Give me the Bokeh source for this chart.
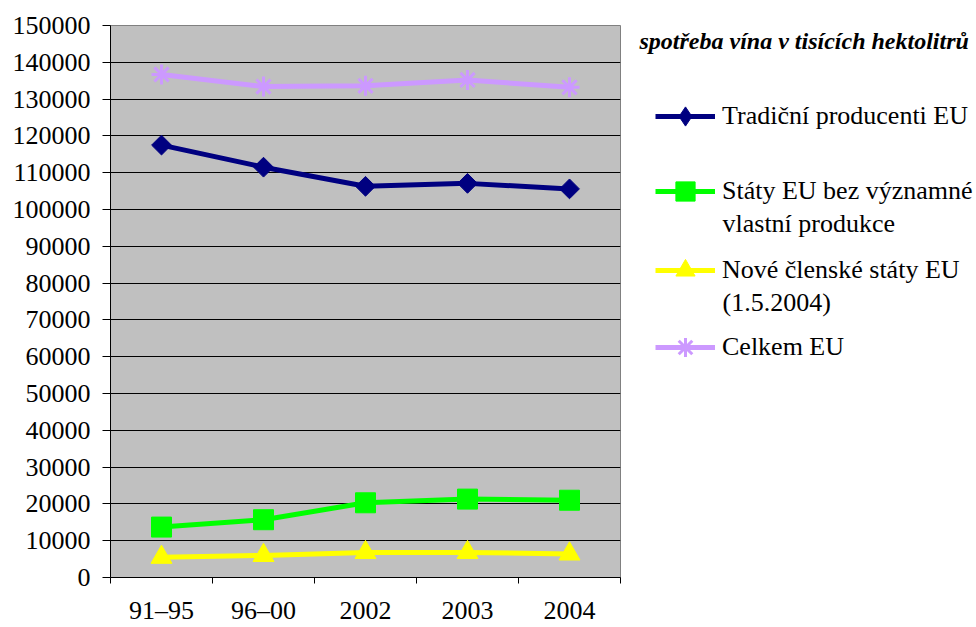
import math
from bokeh.plotting import figure
from bokeh.layouts import row
from bokeh.models import Range1d, FixedTicker, Legend, LegendItem, Label, NumeralTickFormatter
from bokeh.embed import file_html
from bokeh.resources import INLINE

# ---- data ----
categories = ["91–95", "96–00", "2002", "2003", "2004"]
tradicni = [117500, 111500, 106300, 107100, 105600]
staty = [13700, 15700, 20300, 21300, 21000]
nove = [5500, 6000, 6800, 6800, 6400]
celkem = [136700, 133400, 133600, 135200, 133200]
y_ticks = list(range(0, 150001, 10000))
legend_title = "spotřeba vína v tisících hektolitrů"
series_names = ["Tradiční producenti EU",
                "Státy EU bez významné\nvlastní produkce",
                "Nové členské státy EU\n(1.5.2004)",
                "Celkem EU"]
series_values = [tradicni, staty, nove, celkem]

# ---- styles ----
FONT = "Liberation Serif"
styles = [
    dict(color="#000080", marker="square", angle=math.pi / 4, size=14, mlw=1, legend_marker="diamond"),
    dict(color="#00FF00", marker="square", angle=0.0, size=20, mlw=1, legend_marker="square"),
    dict(color="#FFFF00", marker="triangle", angle=0.0, size=21, mlw=1, legend_marker="triangle"),
    dict(color="#CC99FF", marker="asterisk", angle=0.0, size=20, mlw=3, legend_marker="asterisk"),
]

TOP, BOTTOM, H = 25, 50, 627
xs = [i + 0.5 for i in range(len(categories))]

p = figure(width=622, height=H,
           x_range=Range1d(0, len(categories)), y_range=Range1d(0, 150000),
           output_backend="svg", toolbar_location=None,
           min_border_left=110, min_border_right=2,
           min_border_top=TOP, min_border_bottom=BOTTOM)
p.background_fill_color = "#C0C0C0"
p.border_fill_color = "white"
p.outline_line_color = "#808080"
p.outline_line_width = 1

# x axis
xa = p.xaxis[0]
xa.ticker = FixedTicker(ticks=xs, minor_ticks=list(range(len(categories) + 1)))
xa.major_label_overrides = {x: c for x, c in zip(xs, categories)}
xa.major_tick_out = 0
xa.major_tick_in = 0
xa.minor_tick_out = 6
xa.minor_tick_in = 0
xa.minor_tick_line_color = "black"
xa.axis_line_color = "black"
xa.major_label_standoff = 12
xa.major_label_text_font = FONT
xa.major_label_text_font_size = "26px"
xa.major_label_text_color = "black"

# y axis
ya = p.yaxis[0]
ya.ticker = FixedTicker(ticks=y_ticks)
ya.formatter = NumeralTickFormatter(format="0")
ya.major_tick_out = 8
ya.major_tick_in = 0
ya.minor_tick_line_color = None
ya.major_tick_line_color = "black"
ya.axis_line_color = "black"
ya.major_label_standoff = 12
ya.major_label_text_font = FONT
ya.major_label_text_font_size = "26px"
ya.major_label_text_color = "black"

p.xgrid.visible = False
p.ygrid.grid_line_color = "black"
p.ygrid.grid_line_width = 1


def draw(fig, xvals, yvals, st, marker=None, angle=None):
    marker = marker or st["marker"]
    angle = st["angle"] if angle is None else angle
    ln = fig.line(xvals, yvals, line_color=st["color"], line_width=5)
    if marker == "asterisk":
        mk = fig.scatter(xvals, yvals, marker="asterisk", size=st["size"],
                         line_color=st["color"], line_width=st["mlw"])
    else:
        mk = fig.scatter(xvals, yvals, marker=marker, angle=angle,
                         size=st["size"], fill_color=st["color"],
                         line_color=st["color"], line_width=st["mlw"])
    return [ln, mk]


for vals, st in zip(series_values, styles):
    draw(p, xs, vals, st)

# ---- legend panel (same series, ranges chosen so the marks fall outside its frame) ----
LW = 354
q = figure(width=LW, height=H, x_range=Range1d(-3, -2), y_range=Range1d(-3, -2),
           output_backend="svg", toolbar_location=None,
           x_axis_location=None, y_axis_location=None,
           min_border_left=0, min_border_right=0,
           min_border_top=TOP, min_border_bottom=BOTTOM)
q.outline_line_color = None
q.background_fill_color = "white"
q.border_fill_color = "white"
q.xgrid.visible = False
q.ygrid.visible = False

FB = H - BOTTOM  # page y of frame bottom
GH = 48
centers = [116, 191, 270, 347]  # page y of first line of each entry
for name, vals, st, cy in zip(series_names, series_values, styles, centers):
    rs = draw(q, xs, vals, st, marker=st["legend_marker"], angle=0.0)
    lines = name.split("\n")
    leg = Legend(items=[LegendItem(label=lines[0], renderers=rs)],
                 location=(33, FB - cy - GH / 2),
                 glyph_width=60, glyph_height=GH, label_standoff=7,
                 padding=0, margin=0, spacing=0,
                 border_line_alpha=0, background_fill_alpha=0,
                 label_text_font=FONT, label_text_font_size="26px",
                 label_text_color="black")
    q.add_layout(leg)
    for k, extra in enumerate(lines[1:]):
        q.add_layout(Label(x=100, y=FB - (cy + 32 * (k + 1)), x_units="screen", y_units="screen",
                           text=extra, text_font=FONT, text_font_size="26px",
                           text_baseline="middle", text_align="left", text_color="black"))

q.add_layout(Label(x=17, y=FB - 40, x_units="screen", y_units="screen",
                   text=legend_title, text_font=FONT, text_font_size="24px",
                   text_font_style="bold italic", text_baseline="middle",
                   text_align="left", text_color="black"))

open("out.html", "w").write(file_html(row(p, q), INLINE))
